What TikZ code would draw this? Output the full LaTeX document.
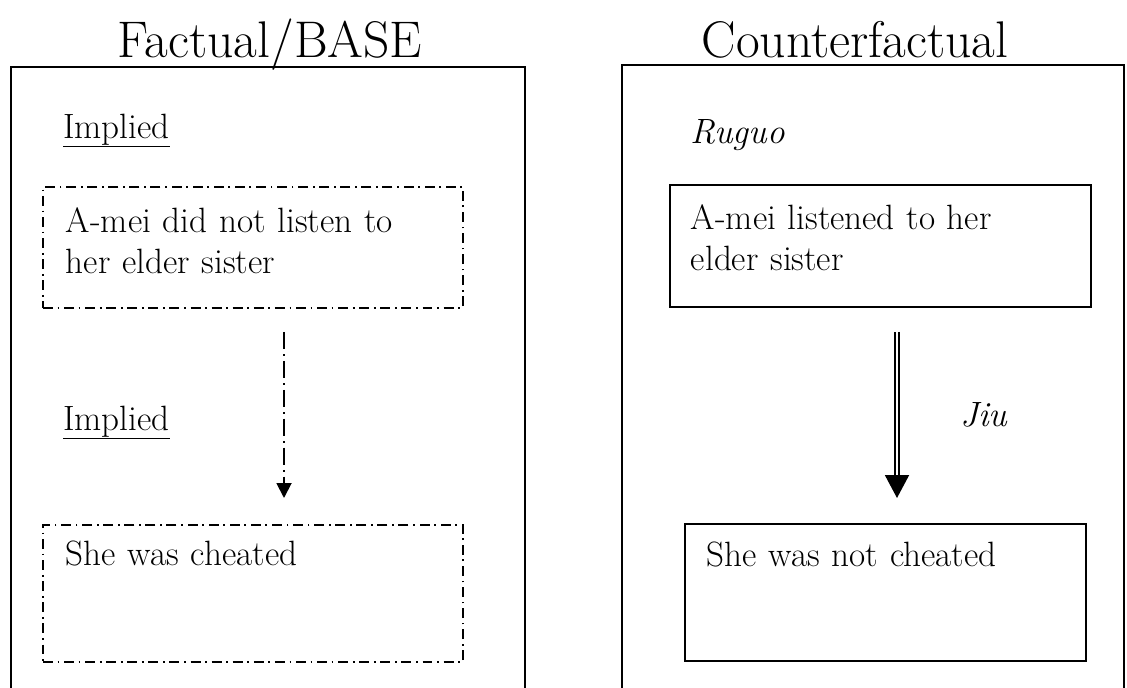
\documentclass[tikz,border=0pt]{standalone}
\usepackage{fontspec}
\usepackage{tikz}
\usetikzlibrary{arrows.meta, positioning, calc}

\begin{document}
\begin{tikzpicture}[x=0.03cm, y=-0.03cm,
  every node/.style={font=\fontsize{30}{35}\selectfont},
  heading/.style={anchor=base, font=\fontsize{44}{50}\selectfont},
  panel/.style={line width=1.6pt},
  claim/.style={draw, line width=1.6pt, anchor=north west, align=left, inner ysep=0pt},
  implied/.style={claim, dash pattern=on 8.5pt off 4pt on 1.5pt off 4pt},
  tag/.style={anchor=base west, inner sep=0pt},
  infer/.style={line width=1.6pt, dash pattern=on 15pt off 4pt on 1.7pt off 4pt,
    -{Triangle[width=0.45cm, length=0.45cm]}},
  entail/.style={double, double distance=2.5pt, line width=1.6pt,
    -{Triangle[width=0.72cm, length=0.69cm]}}]
  \useasboundingbox (0,0) rectangle (1127,687);

  % column headings
  \node[heading] (fact-head) at (270,57) {Factual/BASE};
  \node[heading] (cf-head) at (855,57) {Counterfactual};

  % the two panels, open at the bottom
  \draw[panel] (11,690) |- (525,67) -- (525,690);
  \draw[panel] (622,690) |- (1124,65) -- (1124,690);

  % factual panel
  \node[tag] (implied1) at (63,138) {\underline{Implied}};
  \node[implied, inner xsep=0.69cm, text width=11.22cm, text height=1.38cm, text depth=2.25cm]
    (no-listen) at (42,186) {A-mei did not listen to\\her elder sister};
  \node[tag] (implied2) at (63,430) {\underline{Implied}};
  \node[implied, inner xsep=0.69cm, text width=11.22cm, text height=1.23cm, text depth=2.88cm]
    (cheated) at (42,524) {She was cheated};

  \coordinate (fact-x) at (284,0);
  \draw[infer, shorten <=0.69cm, shorten >=0.78cm]
    (no-listen.south -| fact-x) -- (cheated.north -| fact-x);

  % counterfactual panel
  \node[tag] (ruguo) at (690,143) {\textit{Ruguo}};
  \node[claim, inner xsep=0.63cm, text width=11.37cm, text height=1.35cm, text depth=2.31cm]
    (listened) at (669,184) {A-mei listened to her\\elder sister};
  \node[tag] (jiu) at (960,426) {\textit{Jiu}};
  \node[claim, inner xsep=0.66cm, text width=10.71cm, text height=1.29cm, text depth=2.82cm]
    (not-cheated) at (684,523) {She was not cheated};

  \coordinate (cf-x) at (897,0);
  \draw[entail, shorten <=0.72cm, shorten >=0.75cm]
    (listened.south -| cf-x) -- (not-cheated.north -| cf-x);
\end{tikzpicture}
\end{document}
